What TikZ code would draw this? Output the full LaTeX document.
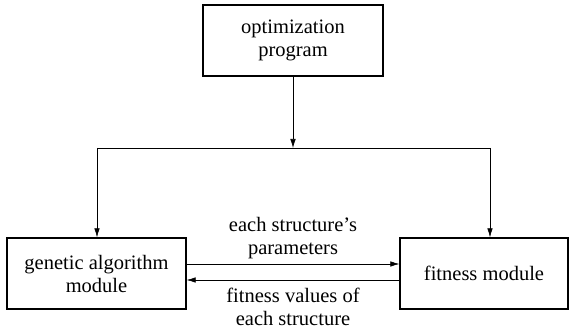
\documentclass[tikz,border=0pt]{standalone}
\usepackage{fontspec}
\setmainfont{Liberation Serif}
\usetikzlibrary{arrows.meta,positioning}

\tikzset{
	box/.style={draw, line width=1.3pt, inner sep=0pt, align=center, font=\fontsize{20.5}{23}\selectfont},
	lbl/.style={align=center, font=\fontsize{20.5}{23}\selectfont},
	arr/.style={line width=0.6pt, -{Latex[length=9pt,width=5.5pt]}}
}

\begin{document}
\begin{tikzpicture}[x=1pt,y=1pt]
	\useasboundingbox (0,0) rectangle (574,334);

	% Boxes
	\node[box, minimum width=180pt, minimum height=71pt] (prog) at (293,293.5) {optimization\\program};
	\node[box, minimum width=179pt, minimum height=71pt] (ga) at (96.5,60.5) {genetic algorithm\\module};
	\node[box, minimum width=168pt, minimum height=71pt] (fit) at (484,60.5) {fitness module};

	% Branch
	\coordinate (split) at (293,186);
	\coordinate (splitL) at (97,186);
	\coordinate (splitR) at (490,186);
	\draw[arr] (prog) -- (split);
	\draw[line width=0.6pt] (splitL) -- (splitR);
	\draw[arr] (splitL) -- (splitL |- ga.north);
	\draw[arr] (splitR) -- (splitR |- fit.north);

	% Exchange
	\draw[arr] ([yshift=9.5pt]ga.east) -- ([yshift=9.5pt]fit.west) node[lbl, midway, above=1pt] (par) {each structure's\\parameters};
	\draw[arr] ([yshift=-6.5pt]fit.west) -- ([yshift=-6.5pt]ga.east) node[lbl, midway, below=4pt] (val) {fitness values of\\each structure};

\end{tikzpicture}
\end{document}
